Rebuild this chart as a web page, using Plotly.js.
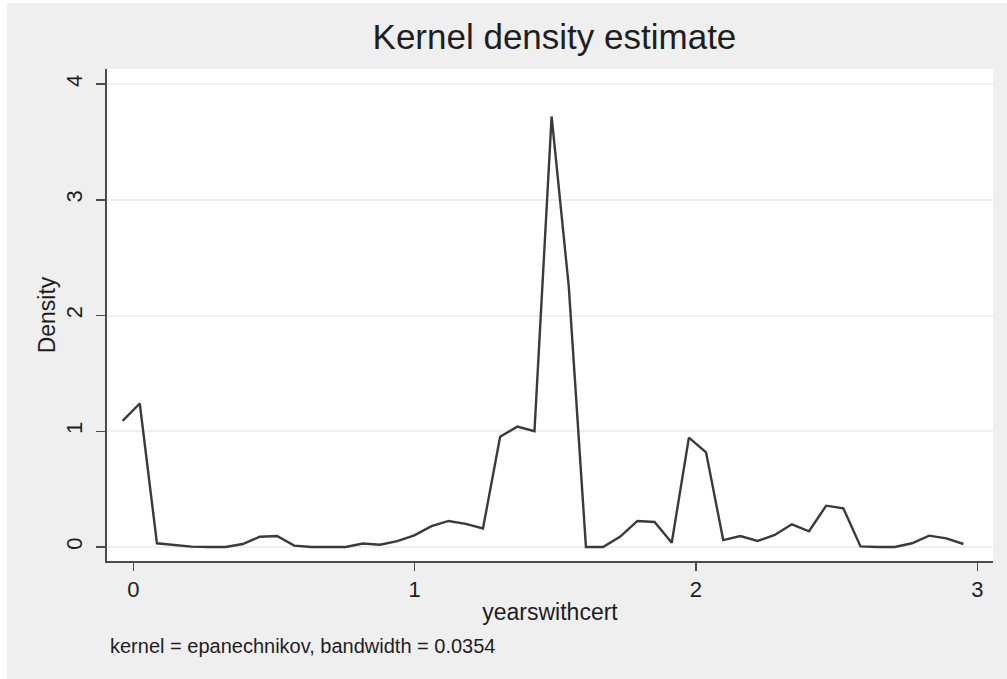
<!DOCTYPE html>
<html>
<head>
<meta charset="utf-8">
<script src="https://cdn.plot.ly/plotly-3.0.1.min.js"></script>
<style>
html,body{margin:0;padding:0;background:#ffffff;}
#wrap{position:absolute;left:7px;top:3px;width:1000px;height:676px;background:#efefef;}
#chart{width:1000px;height:676px;}
</style>
</head>
<body>
<div id="wrap"><div id="chart"></div></div>
<script>
// Evaluation points (yearswithcert)
const xValues = [
  -0.038, 0.023, 0.084, 0.145, 0.206, 0.267, 0.328, 0.389, 0.450, 0.511,
  0.572, 0.633, 0.694, 0.755, 0.816, 0.877, 0.938, 0.999, 1.060, 1.121,
  1.182, 1.243, 1.304, 1.365, 1.426, 1.487, 1.548, 1.609, 1.670, 1.731,
  1.792, 1.853, 1.914, 1.975, 2.036, 2.097, 2.158, 2.219, 2.280, 2.341,
  2.402, 2.463, 2.524, 2.585, 2.646, 2.707, 2.768, 2.829, 2.890, 2.951
];
// Estimated density
const densityValues = [
  1.09, 1.24, 0.032, 0.015, 0.003, 0.0, 0.0, 0.026, 0.089, 0.095,
  0.012, 0.0, 0.0, 0.0, 0.03, 0.02, 0.05, 0.10, 0.18, 0.225,
  0.20, 0.16, 0.953, 1.04, 1.0, 3.72, 2.25, 0.0, 0.0, 0.09,
  0.225, 0.216, 0.037, 0.945, 0.818, 0.06, 0.095, 0.052, 0.104, 0.196,
  0.136, 0.357, 0.334, 0.005, 0.0, 0.0, 0.032, 0.098, 0.075, 0.026
];
const xTicks = [0, 1, 2, 3];
const yTicks = [0, 1, 2, 3, 4];
const chartTitle = "Kernel density estimate";
const xTitle = "yearswithcert";
const yTitle = "Density";
const noteText = "kernel = epanechnikov, bandwidth = 0.0354";

const FONT = "Liberation Sans, Arial, sans-serif";

const trace = {
  x: xValues, y: densityValues, type: "scatter", mode: "lines",
  line: {color: "#3a3a3a", width: 2.4}, hoverinfo: "x+y"
};

const layout = {
  width: 1000, height: 676,
  paper_bgcolor: "#efefef", plot_bgcolor: "#ffffff",
  margin: {l: 100, r: 14, t: 66, b: 118},
  showlegend: false,
  font: {family: FONT, color: "#1e1e1e"},
  title: {text: chartTitle, font: {family: FONT, size: 35, color: "#1e1e1e"},
          x: 0.505, xref: "paper", xanchor: "center", y: 0.95, yref: "container", yanchor: "middle"},
  xaxis: {
    range: [-0.0935, 3.056], tickvals: xTicks, ticktext: xTicks.map(String),
    showgrid: false, zeroline: false, showline: true, linecolor: "#4a4a4a", linewidth: 2,
    ticks: "outside", ticklen: 8, tickwidth: 1.5, tickcolor: "#4a4a4a",
    tickfont: {family: FONT, size: 22, color: "#1e1e1e"},
    title: {text: xTitle, font: {family: FONT, size: 23, color: "#1e1e1e"}, standoff: 2}
  },
  yaxis: {
    range: [-0.121, 4.13], tickvals: yTicks, ticktext: yTicks.map(String),
    showgrid: true, gridcolor: "#efefef", gridwidth: 2,
    zeroline: false, showline: true, linecolor: "#4a4a4a", linewidth: 2,
    ticks: "outside", ticklen: 9, tickwidth: 1.5, tickcolor: "#4a4a4a",
    tickangle: -90, ticklabelstandoff: 5,
    tickfont: {family: FONT, size: 22, color: "#1e1e1e"},
    title: {text: yTitle, font: {family: FONT, size: 23, color: "#1e1e1e"}, standoff: 0}
  },
  annotations: [{
    text: noteText, xref: "paper", yref: "paper", x: 0.001, y: -0.172,
    xanchor: "left", yanchor: "middle", showarrow: false,
    font: {family: FONT, size: 20, color: "#1e1e1e"}
  }]
};

Plotly.newPlot("chart", [trace], layout, {displayModeBar: false, staticPlot: true});
</script>
</body>
</html>
